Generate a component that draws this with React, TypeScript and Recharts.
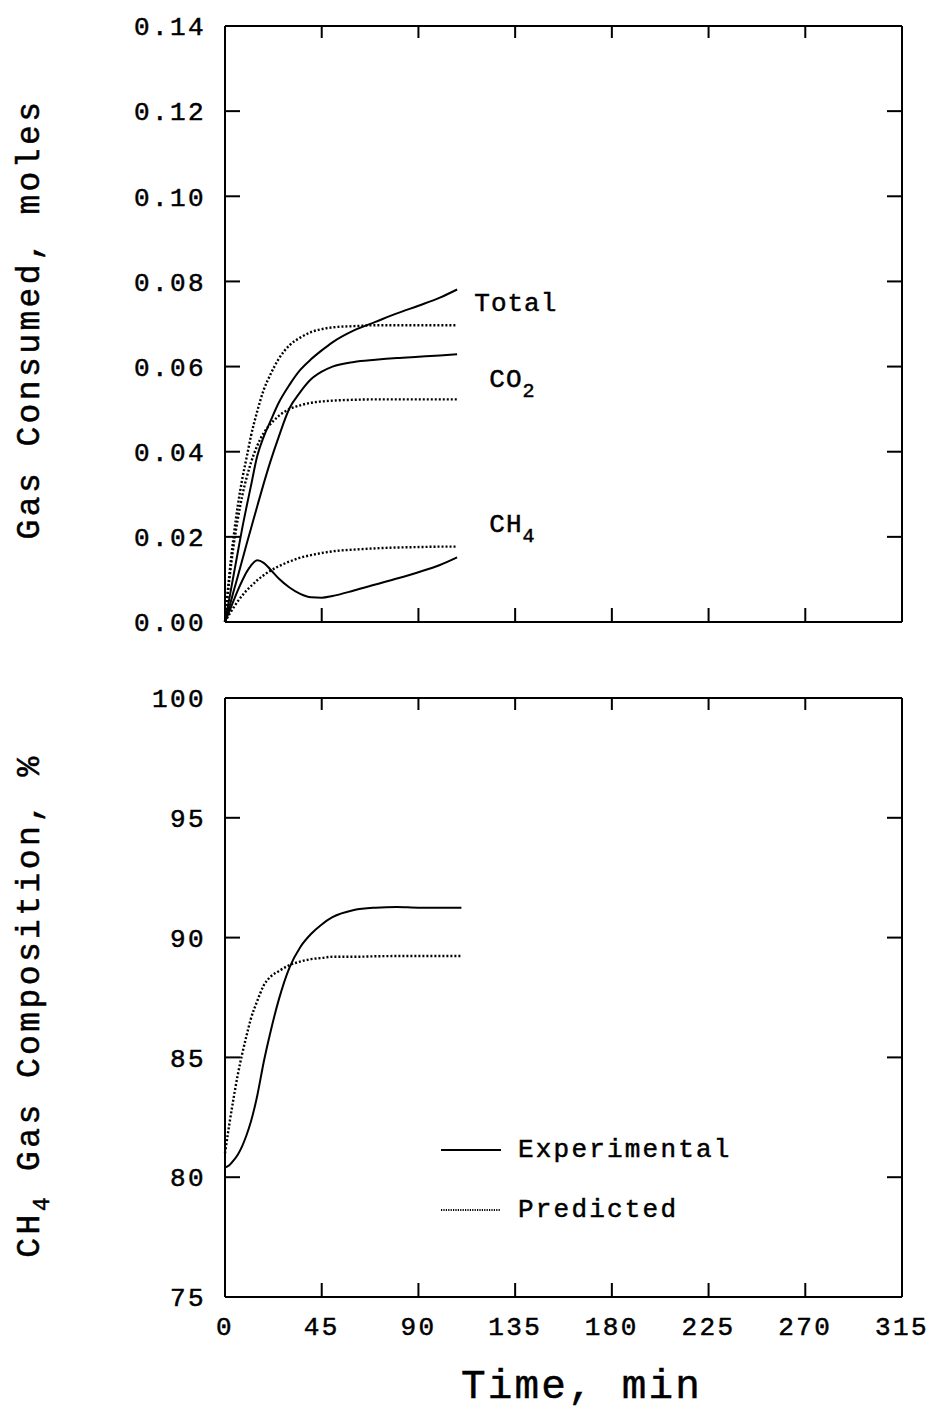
import React from 'react';
import { LineChart, Line, XAxis, YAxis, ReferenceDot, Legend } from 'recharts';

const FONT = '"Liberation Mono", "DejaVu Sans Mono", monospace';
const DOT = '2 2';

// ---------- axes ----------
const TIME_TICKS = [0, 45, 90, 135, 180, 225, 270, 315];
const TOP_Y_TICKS = [0, 0.02, 0.04, 0.06, 0.08, 0.1, 0.12, 0.14];
const BOT_Y_TICKS = [75, 80, 85, 90, 95, 100];

// ---------- top panel: gas consumed (moles) ----------
const TIME_TOP = [0, 2, 4, 6, 8, 10, 12, 15, 18, 21, 25, 30, 35, 40, 45, 50, 60, 70, 80, 90, 100, 108];
const TOTAL_EXP = [0, 0.0055, 0.011, 0.0165, 0.022, 0.027, 0.0318, 0.039, 0.0435, 0.047, 0.0515, 0.0557, 0.0592, 0.0617, 0.0638, 0.0657, 0.0685, 0.0705, 0.0725, 0.0743, 0.0762, 0.0781];
const CO2_EXP = [0, 0.0035, 0.0072, 0.0108, 0.0145, 0.0182, 0.0218, 0.0272, 0.0325, 0.0375, 0.0435, 0.0502, 0.054, 0.057, 0.0588, 0.06, 0.0611, 0.0616, 0.062, 0.0623, 0.0626, 0.0629];
const CH4_EXP = [0, 0.0025, 0.005, 0.0075, 0.0097, 0.0117, 0.0132, 0.0145, 0.0139, 0.0124, 0.0102, 0.0081, 0.0066, 0.0058, 0.0057, 0.0061, 0.0074, 0.0088, 0.0102, 0.0117, 0.0134, 0.0152];
const TOTAL_PRED = [0, 0.011, 0.02, 0.0275, 0.0335, 0.0385, 0.0435, 0.0495, 0.0545, 0.058, 0.0618, 0.065, 0.0668, 0.0681, 0.0688, 0.0692, 0.0695, 0.0697, 0.0697, 0.0697, 0.0697, 0.0697];
const CO2_PRED = [0, 0.0099, 0.0179, 0.0243, 0.0296, 0.0338, 0.0373, 0.0414, 0.0444, 0.0464, 0.0484, 0.05, 0.0509, 0.0515, 0.0518, 0.052, 0.0522, 0.0523, 0.0523, 0.0523, 0.0523, 0.0523];
const CH4_PRED = [0, 0.0018, 0.0034, 0.0049, 0.0062, 0.0074, 0.0084, 0.0098, 0.011, 0.012, 0.0131, 0.0142, 0.0151, 0.0157, 0.0162, 0.0166, 0.017, 0.0173, 0.0175, 0.0176, 0.0177, 0.0177];

// ---------- bottom panel: CH4 gas composition (%) ----------
const TIME_BOT = [0, 2, 4, 6, 8, 10, 12, 15, 18, 21, 25, 30, 35, 40, 45, 50, 60, 70, 80, 90, 100, 110];
const COMP_EXP = [80.4, 80.5, 80.7, 80.95, 81.3, 81.75, 82.3, 83.4, 84.8, 86.0, 87.4, 88.75, 89.6, 90.15, 90.55, 90.85, 91.15, 91.25, 91.28, 91.25, 91.25, 91.25];
const COMP_PRED = [81.0, 82.2, 83.3, 84.3, 85.15, 85.9, 86.6, 87.35, 88.0, 88.35, 88.6, 88.85, 89.0, 89.1, 89.15, 89.2, 89.2, 89.22, 89.23, 89.23, 89.23, 89.23];

// ---------- curve labels ----------
const LABELS = [
  { text: 'Total', sub: '', t: 116, v: 0.0751 },
  { text: 'CO', sub: '2', t: 123, v: 0.0573 },
  { text: 'CH', sub: '4', t: 123, v: 0.0232 },
];

const TOP_ROWS = TIME_TOP.map((t, i) => ({
  t,
  totalExp: TOTAL_EXP[i],
  co2Exp: CO2_EXP[i],
  ch4Exp: CH4_EXP[i],
  totalPred: TOTAL_PRED[i],
  co2Pred: CO2_PRED[i],
  ch4Pred: CH4_PRED[i],
}));

const BOT_ROWS = TIME_BOT.map((t, i) => ({ t, exp: COMP_EXP[i], pred: COMP_PRED[i] }));

const AXIS = { stroke: '#000', strokeWidth: 2 };
const TEXT_STROKE = { stroke: '#000', strokeWidth: 0.5 };
const TICK = { fontSize: 26, fontFamily: FONT, fill: '#000', letterSpacing: 2.4, ...TEXT_STROKE };

const NoLabel = () => <g />;

function TopYTitle(props: any) {
  const vb = props.viewBox || { x: 0, y: 0, width: 0, height: 0 };
  const cy = vb.y + vb.height / 2 - 5;
  const x = 39;
  return (
    <text x={x} y={cy} transform={`rotate(-90, ${x}, ${cy})`} textAnchor="middle"
      fontFamily={FONT} fontSize={33} letterSpacing={3.4} fill="#000" {...TEXT_STROKE}>
      Gas Consumed, moles
    </text>
  );
}

function BotYTitle(props: any) {
  const vb = props.viewBox || { x: 0, y: 0, width: 0, height: 0 };
  const cy = vb.y + vb.height / 2 + 8;
  const x = 39;
  return (
    <text x={x} y={cy} transform={`rotate(-90, ${x}, ${cy})`} textAnchor="middle"
      fontFamily={FONT} fontSize={33} letterSpacing={3.4} fill="#000" {...TEXT_STROKE}>
      <tspan>CH</tspan>
      <tspan dy={10} fontSize={23}>4</tspan>
      <tspan dy={-10}> Gas Composition, %</tspan>
    </text>
  );
}

function XTitle(props: any) {
  const vb = props.viewBox || { x: 0, y: 0, width: 0, height: 0 };
  return (
    <text x={vb.x + vb.width / 2 + 18} y={vb.y + 101} textAnchor="middle"
      fontFamily={FONT} fontSize={41} letterSpacing={2.2} fill="#000" {...TEXT_STROKE}>
      Time, min
    </text>
  );
}

function CurveLabel(props: any) {
  const vb = props.viewBox || { x: 0, y: 0 };
  const { text, sub } = props;
  return (
    <text x={vb.x} y={vb.y + 9} fontFamily={FONT} fontSize={26} letterSpacing={1} fill="#000" {...TEXT_STROKE}>
      <tspan>{text}</tspan>
      {sub ? <tspan dy={10} fontSize={20}>{sub}</tspan> : null}
    </text>
  );
}

function LegendBox(props: any) {
  const payload = props.payload || [];
  return (
    <div>
      {payload.map((e: any) => (
        <div key={e.value} style={{ display: 'flex', alignItems: 'center', height: 60 }}>
          <svg width={60} height={10} style={{ display: 'block' }}>
            <line x1={0} x2={60} y1={5} y2={5} stroke="#000" strokeWidth={2}
              strokeDasharray={e.payload && e.payload.strokeDasharray ? '1.2 1.2' : undefined} />
          </svg>
          <span style={{ marginLeft: 17, fontFamily: FONT, fontSize: 26, letterSpacing: 2.2, color: '#000', lineHeight: '30px', WebkitTextStroke: '0.5px #000' }}>
            {e.value}
          </span>
        </div>
      ))}
    </div>
  );
}

export default function App() {
  return (
    <div style={{ position: 'absolute', left: 0, top: 0, width: 941, height: 1414, background: '#fff' }}>
      <div style={{ position: 'absolute', left: 0, top: 0 }}>
        <LineChart width={941} height={660} data={TOP_ROWS} margin={{ top: 25, right: 38, bottom: 37, left: 0 }}>
          <XAxis dataKey="t" type="number" domain={[0, 315]} ticks={TIME_TICKS} interval={0} height={1}
            tick={NoLabel} tickSize={-14} axisLine={AXIS} tickLine={AXIS} />
          <XAxis xAxisId="top" orientation="top" dataKey="t" type="number" domain={[0, 315]} allowDataOverflow
            ticks={TIME_TICKS} interval={0} height={1} tick={NoLabel} tickSize={-12} axisLine={AXIS} tickLine={AXIS} />
          <YAxis type="number" domain={[0, 0.14]} ticks={TOP_Y_TICKS} interval={0} width={225} tickSize={-15}
            tickMargin={34} tick={TICK} tickFormatter={(v: number) => v.toFixed(2)} axisLine={AXIS} tickLine={AXIS}
            label={<TopYTitle />} />
          <YAxis yAxisId="right" orientation="right" type="number" domain={[0, 0.14]} allowDataOverflow
            ticks={TOP_Y_TICKS} interval={0} width={1} tick={NoLabel} tickSize={-15} axisLine={AXIS} tickLine={AXIS} />
          <Line dataKey="totalExp" type="monotone" stroke="#000" strokeWidth={2} dot={false} isAnimationActive={false} />
          <Line dataKey="co2Exp" type="monotone" stroke="#000" strokeWidth={2} dot={false} isAnimationActive={false} />
          <Line dataKey="ch4Exp" type="monotone" stroke="#000" strokeWidth={2} dot={false} isAnimationActive={false} />
          <Line dataKey="totalPred" type="monotone" stroke="#000" strokeWidth={2.4} strokeDasharray={DOT} dot={false} isAnimationActive={false} />
          <Line dataKey="co2Pred" type="monotone" stroke="#000" strokeWidth={2.4} strokeDasharray={DOT} dot={false} isAnimationActive={false} />
          <Line dataKey="ch4Pred" type="monotone" stroke="#000" strokeWidth={2.4} strokeDasharray={DOT} dot={false} isAnimationActive={false} />
          {LABELS.map((l) => (
            <ReferenceDot key={l.text} x={l.t} y={l.v} r={0} fill="none" stroke="none"
              label={<CurveLabel text={l.text} sub={l.sub} />} />
          ))}
        </LineChart>
      </div>
      <div style={{ position: 'absolute', left: 0, top: 660 }}>
        <LineChart width={941} height={754} data={BOT_ROWS} margin={{ top: 37, right: 38, bottom: 0, left: 0 }}>
          <XAxis dataKey="t" type="number" domain={[0, 315]} ticks={TIME_TICKS} interval={0} height={117}
            tick={TICK} tickSize={-14} tickMargin={34} axisLine={AXIS} tickLine={AXIS} label={<XTitle />} />
          <XAxis xAxisId="top" orientation="top" dataKey="t" type="number" domain={[0, 315]} allowDataOverflow
            ticks={TIME_TICKS} interval={0} height={1} tick={NoLabel} tickSize={-12} axisLine={AXIS} tickLine={AXIS} />
          <YAxis type="number" domain={[75, 100]} ticks={BOT_Y_TICKS} interval={0} width={225} tickSize={-15}
            tickMargin={34} tick={TICK} axisLine={AXIS} tickLine={AXIS} label={<BotYTitle />} />
          <YAxis yAxisId="right" orientation="right" type="number" domain={[75, 100]} allowDataOverflow
            ticks={BOT_Y_TICKS} interval={0} width={1} tick={NoLabel} tickSize={-15} axisLine={AXIS} tickLine={AXIS} />
          <Line name="Experimental" dataKey="exp" type="monotone" stroke="#000" strokeWidth={2} dot={false} isAnimationActive={false} />
          <Line name="Predicted" dataKey="pred" type="monotone" stroke="#000" strokeWidth={2.4} strokeDasharray={DOT} dot={false} isAnimationActive={false} />
          <Legend layout="vertical" align="center" verticalAlign="middle" content={<LegendBox />}
            wrapperStyle={{ left: 441, top: 460, width: 340 }} />
        </LineChart>
      </div>
    </div>
  );
}
